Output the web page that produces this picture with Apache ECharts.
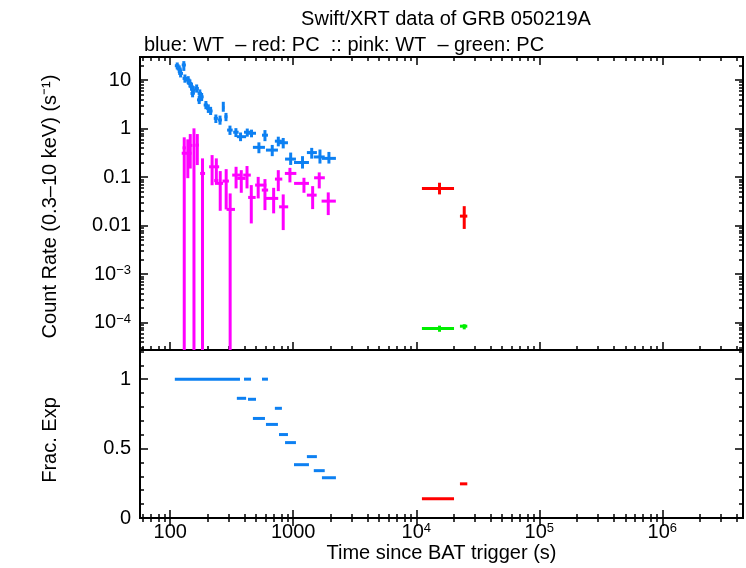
<!DOCTYPE html>
<html>
<head>
<meta charset="utf-8">
<script src="https://cdn.jsdelivr.net/npm/echarts@6/dist/echarts.min.js"></script>
<style>
  html, body { margin: 0; padding: 0; background: #fff; }
  #chart { width: 746px; height: 568px; }
</style>
</head>
<body>
<div id="chart"></div>
<script>
// rows: [time, timeLo, timeHi, rate, rateLo, rateHi]  (1e-6 = runs off the bottom)
const wtBlue = [
  [114, 109, 119, 19.7, 16.5, 23], [118.4, 113, 124, 16.9, 14, 20],
  [121.5, 116, 127, 13.7, 11.3, 16.5], [129, 124, 134, 20.4, 15.4, 24.5],
  [131.7, 126, 137, 10.8, 8.8, 13], [140, 134, 146, 10, 8.2, 12],
  [144.6, 138, 151, 8.5, 7, 10.3], [149, 143, 155, 7.3, 6, 8.8],
  [152, 146, 158, 5.3, 4.4, 6.4], [154, 148, 160, 6.2, 5.1, 7.5],
  [164, 158, 171, 6.7, 5.5, 8.1], [172, 165, 179, 3.9, 3.2, 4.7],
  [174, 167, 181, 5.3, 4.4, 6.4], [180, 173, 187, 4.5, 3.7, 5.4],
  [195, 187, 203, 3.05, 2.5, 3.7], [204, 196, 212, 2.6, 2.1, 3.15],
  [213, 205, 221, 2.3, 1.9, 2.8], [235, 226, 244, 1.62, 1.3, 1.95],
  [254, 245, 263, 1.5, 1.2, 1.85], [270, 264, 276, 2.7, 2.22, 3.56],
  [284, 276, 292, 1.75, 1.42, 2.1], [306, 290, 322, 0.93, 0.74, 1.15],
  [342, 325, 360, 0.84, 0.67, 1.02], [373, 348, 414, 0.68, 0.55, 0.83],
  [423, 398, 454, 0.84, 0.68, 1.0], [458, 429, 498, 0.8, 0.66, 0.95],
  [526, 470, 589, 0.41, 0.31, 0.52], [589, 557, 623, 0.73, 0.55, 0.93],
  [675, 600, 751, 0.36, 0.27, 0.46], [756, 709, 809, 0.55, 0.43, 0.68],
  [829, 766, 906, 0.51, 0.39, 0.64], [953, 858, 1052, 0.235, 0.178, 0.32],
  [1190, 1014, 1342, 0.2, 0.15, 0.27], [1413, 1291, 1557, 0.32, 0.24, 0.4],
  [1649, 1469, 1803, 0.26, 0.19, 0.37], [1950, 1711, 2223, 0.243, 0.19, 0.33]
];
const wtPink = [
  [130, 126, 134, 0.4, 1e-6, 0.66], [139, 124, 149, 0.31, 0.095, 0.6],
  [145.5, 141, 150, 0.45, 0.15, 0.77], [156, 152, 160, 0.45, 1e-6, 1.01],
  [166, 161, 171, 0.457, 0.177, 0.77], [183, 175, 192, 0.119, 1e-6, 0.243],
  [219, 207, 250, 0.163, 0.068, 0.284], [237, 228, 246, 0.085, 0.074, 0.243],
  [255, 231, 269, 0.0742, 0.0202, 0.133], [285, 266, 300, 0.0828, 0.0216, 0.146],
  [307, 287, 336, 0.0216, 1e-6, 0.0461], [343, 319, 381, 0.11, 0.0585, 0.163],
  [378, 350, 410, 0.094, 0.0475, 0.139], [421, 392, 452, 0.11, 0.0585, 0.169],
  [456, 430, 495, 0.0381, 0.0111, 0.0684], [519, 490, 605, 0.0684, 0.0364, 0.101],
  [589, 555, 625, 0.054, 0.0209, 0.091], [693, 588, 755, 0.0364, 0.0179, 0.0601],
  [756, 710, 815, 0.091, 0.0514, 0.139], [829, 767, 910, 0.0244, 0.0081, 0.044],
  [940, 855, 1060, 0.119, 0.0778, 0.155], [1222, 1016, 1342, 0.0742, 0.0475, 0.0968],
  [1438, 1290, 1550, 0.0425, 0.0219, 0.0652], [1627, 1478, 1806, 0.0968, 0.0585, 0.125],
  [1926, 1700, 2220, 0.032, 0.0165, 0.0484]
];
const pcRed = [
  [15460, 11120, 20280, 0.0585, 0.044, 0.0765],
  [24550, 22650, 26000, 0.0157, 0.00855, 0.0252]
];
const pcGreen = [
  [15460, 11120, 20280, 7.58e-5, 6.5e-5, 8.7e-5],
  [24550, 22650, 26000, 8.47e-5, 7.3e-5, 9.3e-5]
];
// fractional exposure: [timeLo, timeHi, frac]
const fracWT = [
  [109, 369, 1.0], [348, 414, 0.862], [398, 454, 1.0], [429, 498, 0.855],
  [470, 589, 0.717], [557, 623, 1.0], [600, 751, 0.674], [709, 809, 0.79],
  [766, 906, 0.601], [858, 1052, 0.543], [1014, 1342, 0.384], [1291, 1557, 0.442],
  [1469, 1803, 0.341], [1711, 2223, 0.29]
];
const fracPC = [[11120, 20280, 0.138], [22650, 26000, 0.246]];

const xMajor = [100, 1000, 1e4, 1e5, 1e6];
const yMajor = [1e-4, 1e-3, 0.01, 0.1, 1, 10];
const fracMajor = [0, 0.5, 1];
const fracMinor = [0.1, 0.2, 0.3, 0.4, 0.6, 0.7, 0.8, 0.9, 1.1, 1.2];

const X_MIN = 56.8, X_MAX = 4.53e6;
const Y_MIN = 2.74e-5, Y_MAX = 29.8;
const F_MIN = 0, F_MAX = 1.21;

function logMinor(lo, hi) {
  const v = [];
  for (let e = lo; e <= hi; e++) for (let m = 2; m <= 9; m++) v.push(m * Math.pow(10, e));
  return v;
}
const xMinor = logMinor(1, 6);
const yMinor = logMinor(-5, 1);

const FONT = 'Liberation Sans';
const sup = { fontSize: 13, fontFamily: FONT, color: '#000', verticalAlign: 'top', lineHeight: 12 };
function powLabel(v, plain) {
  const e = Math.round(Math.log10(v));
  if (plain.indexOf(e) >= 0) return String(Number(v.toPrecision(3)));
  return '10{s|' + (e < 0 ? '\u2212' + (-e) : e) + '}';
}

function tickAxis(grid, type, min, max, pos, values, len, label) {
  const a = {
    type: type, gridIndex: grid, min: min, max: max, position: pos,
    axisLine: { show: false },
    splitLine: { show: false },
    axisTick: { show: true, inside: true, length: len, customValues: values,
      lineStyle: { color: '#000', width: 1.5 } },
    axisLabel: { show: false }
  };
  if (label) {
    a.axisLabel = Object.assign({ show: true, customValues: values, color: '#000',
      fontFamily: FONT, fontSize: 20, rich: { s: sup } }, label);
  }
  return a;
}
// padding on the (rotated) right side nudges the vertical names downwards
function nameStyle(shift) {
  return { color: '#000', fontFamily: FONT, fontSize: 20, padding: [0, shift * 2, 0, 0] };
}

const xAxes = [], yAxes = [];
[0, 1].forEach(g => {
  ['bottom', 'top'].forEach(pos => {
    const lab = (g === 1 && pos === 'bottom') ? {
      margin: 4, formatter: v => powLabel(v, [2, 3])
    } : null;
    const ax = tickAxis(g, 'log', X_MIN, X_MAX, pos, xMajor, 8, lab);
    if (lab) {
      ax.name = 'Time since BAT trigger (s)';
      ax.nameLocation = 'middle';
      ax.nameGap = 25;
      ax.nameTextStyle = nameStyle(0);
    }
    xAxes.push(ax);
    xAxes.push(tickAxis(g, 'log', X_MIN, X_MAX, pos, xMinor, 4, null));
  });
});
['left', 'right'].forEach(pos => {
  const lab = pos === 'left' ? { margin: 9, formatter: v => powLabel(v, [-2, -1, 0, 1]) } : null;
  const ax = tickAxis(0, 'log', Y_MIN, Y_MAX, pos, yMajor, 8, lab);
  if (lab) {
    ax.name = 'Count Rate (0.3\u201310 keV) (s\u207B\u00B9)';
    ax.nameLocation = 'middle';
    ax.nameGap = 80;
    ax.nameTextStyle = nameStyle(3);
  }
  yAxes.push(ax);
  yAxes.push(tickAxis(0, 'log', Y_MIN, Y_MAX, pos, yMinor, 4, null));
});
['left', 'right'].forEach(pos => {
  const lab = pos === 'left' ? { margin: 9, formatter: v => String(v) } : null;
  const ax = tickAxis(1, 'value', F_MIN, F_MAX, pos, fracMajor, 8, lab);
  if (lab) {
    ax.name = 'Frac. Exp';
    ax.nameLocation = 'middle';
    ax.nameGap = 80;
    ax.nameTextStyle = nameStyle(6);
  }
  yAxes.push(ax);
  yAxes.push(tickAxis(1, 'value', F_MIN, F_MAX, pos, fracMinor, 4, null));
});

function errSeries(data, color) {
  return {
    type: 'custom', xAxisIndex: 0, yAxisIndex: 0, data: data,
    encode: { x: [0, 1, 2], y: [3, 4, 5] },
    renderItem: function (params, api) {
      const t = api.value(0), r = api.value(3);
      const lo = Math.max(api.value(4), Y_MIN);
      const a = api.coord([api.value(1), r]), b = api.coord([api.value(2), r]);
      const c = api.coord([t, lo]), d = api.coord([t, api.value(5)]);
      const st = { stroke: color, lineWidth: 3 };
      return { type: 'group', children: [
        { type: 'line', shape: { x1: a[0], y1: a[1], x2: b[0], y2: b[1] }, style: st },
        { type: 'line', shape: { x1: c[0], y1: c[1], x2: d[0], y2: d[1] }, style: st }
      ] };
    }
  };
}
function fracSeries(data, color) {
  return {
    type: 'custom', xAxisIndex: 4, yAxisIndex: 4, data: data,
    encode: { x: [0, 1], y: 2 },
    renderItem: function (params, api) {
      const a = api.coord([api.value(0), api.value(2)]);
      const b = api.coord([api.value(1), api.value(2)]);
      return { type: 'line', shape: { x1: a[0], y1: a[1], x2: b[0], y2: b[1] },
        style: { stroke: color, lineWidth: 3 } };
    }
  };
}

const BLUE = '#0d80f2', PINK = '#ff00ff', RED = '#ff0000', GREEN = '#00ee00';

const chart = echarts.init(document.getElementById('chart'), null, { renderer: 'canvas' });
chart.setOption({
  animation: false,
  backgroundColor: '#fff',
  title: [
    { text: 'Swift/XRT data of GRB 050219A', left: 441, top: 4, textAlign: 'center',
      textStyle: { color: '#000', fontFamily: FONT, fontSize: 20, fontWeight: 'normal' } },
    { text: 'blue: WT  \u2013 red: PC  :: pink: WT  \u2013 green: PC', left: 139, top: 30,
      textStyle: { color: '#000', fontFamily: FONT, fontSize: 20, fontWeight: 'normal' } }
  ],
  grid: [
    { left: 140, right: 3, top: 57, height: 293, show: true, borderColor: '#000', borderWidth: 2,
      backgroundColor: 'transparent' },
    { left: 140, right: 3, top: 350, height: 168, show: true, borderColor: '#000', borderWidth: 2,
      backgroundColor: 'transparent' }
  ],
  xAxis: xAxes,
  yAxis: yAxes,
  series: [
    errSeries(wtBlue, BLUE),
    errSeries(wtPink, PINK),
    errSeries(pcRed, RED),
    errSeries(pcGreen, GREEN),
    fracSeries(fracWT, BLUE),
    fracSeries(fracPC, RED)
  ]
});
</script>
</body>
</html>
